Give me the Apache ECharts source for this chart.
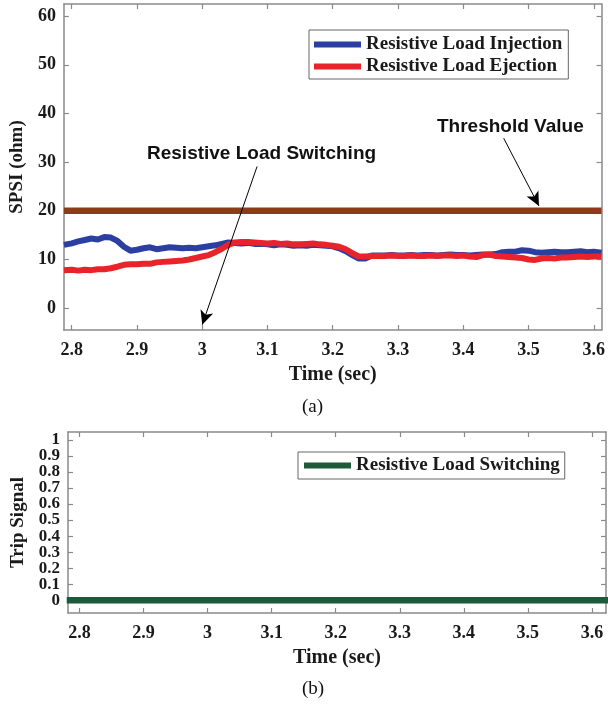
<!DOCTYPE html>
<html><head><meta charset="utf-8">
<script src="https://cdn.jsdelivr.net/npm/echarts@6/dist/echarts.min.js"></script>
<style>html,body{margin:0;padding:0;background:#fff}#c{width:608px;height:706px}</style>
</head><body><div id="c"></div>
<script>
// ---------------- data ----------------
const time = [2.788,
  2.80,2.81,2.82,2.83,2.84,2.85,2.86,2.87,2.88,2.89,
  2.90,2.91,2.92,2.93,2.94,2.95,2.96,2.97,2.98,2.99,
  3.00,3.01,3.02,3.03,3.04,3.05,3.06,3.07,3.08,3.09,
  3.10,3.11,3.12,3.13,3.14,3.15,3.16,3.17,3.18,3.19,
  3.20,3.21,3.22,3.23,3.24,3.25,3.26,3.27,3.28,3.29,
  3.30,3.31,3.32,3.33,3.34,3.35,3.36,3.37,3.38,3.39,
  3.40,3.41,3.42,3.43,3.44,3.45,3.46,3.47,3.48,3.49,
  3.50,3.51,3.52,3.53,3.54,3.55,3.56,3.57,3.58,3.59,
  3.60,3.612];
const injection = [13.0,
  13.3,13.7,14.0,14.3,14.1,14.6,14.5,13.8,12.6,11.8,
  12.0,12.3,12.5,12.1,12.3,12.5,12.4,12.3,12.4,12.3,
  12.5,12.7,12.9,13.2,13.5,13.4,13.3,13.4,13.2,13.2,
  13.1,12.9,13.1,13.0,12.8,12.9,12.8,13.0,12.9,12.8,
  12.7,12.3,11.7,10.9,10.2,10.2,10.8,10.8,10.8,10.9,
  10.8,10.8,10.9,10.8,10.9,10.9,10.8,10.9,11.0,10.9,
  10.9,10.8,10.9,11.0,11.0,11.1,11.5,11.6,11.6,11.9,
  11.8,11.5,11.4,11.5,11.6,11.5,11.5,11.6,11.7,11.5,
  11.6,11.4];
const ejection = [7.8,
  7.9,7.7,7.9,7.8,8.0,8.0,8.2,8.5,8.9,9.0,
  9.0,9.1,9.1,9.4,9.5,9.6,9.7,9.8,10.0,10.3,
  10.6,10.9,11.5,12.2,13.0,13.5,13.6,13.6,13.5,13.4,
  13.3,13.4,13.2,13.3,13.1,13.1,13.2,13.3,13.1,13.0,
  12.8,12.6,12.1,11.3,10.6,10.6,10.7,10.7,10.7,10.8,
  10.7,10.7,10.8,10.7,10.7,10.8,10.7,10.8,10.8,10.7,
  10.8,10.6,10.5,10.9,11.0,10.7,10.6,10.5,10.4,10.3,
  10.0,9.9,10.2,10.3,10.2,10.4,10.4,10.5,10.6,10.5,
  10.6,10.6];
const thresholdValue = 20;
const tripTime = [2.78,2.9,3.0,3.1,3.2,3.3,3.4,3.5,3.63];
const tripSignal = [0,0,0,0,0,0,0,0,0];
const timeTicks = [2.8,2.9,3,3.1,3.2,3.3,3.4,3.5,3.6];
const spsiTicks = [0,10,20,30,40,50,60];
const tripTicks = [0,0.1,0.2,0.3,0.4,0.5,0.6,0.7,0.8,0.9,1];
const seriesNames = ['Resistive Load Injection','Resistive Load Ejection','Resistive Load Switching'];
const annotationTexts = ['Resistive Load Switching','Threshold Value'];

// ---------------- layout / style ----------------
const SERIF = "'Liberation Serif','Times New Roman',serif";
const SANS = "'Liberation Sans',Arial,sans-serif";
const FRAME = '#8a8a8a';
const TXT = '#1a1a1a';
const topX = [2.788, 3.612], topY = [-4.5, 62.5];
const botX = [2.782, 3.622], botY = [-0.08, 1.05];
const switchArrow = [[3.084, 29.1], [3.0, -3.4]];
const thresholdArrow = [[3.462, 34.9], [3.516, 21.0]];
// labels of the dense trip axis split in two interleaved sets so none is dropped
const tripLabelsEven = tripTicks.filter((v, i) => i % 2 === 0);
const tripLabelsOdd = tripTicks.filter((v, i) => i % 2 === 1);

function pairs(xs, ys) { return xs.map((x, i) => [x, ys[i]]); }

function xAxis(grid, range, pos, ticks, labelled, nameGap) {
  return {
    type: 'value', gridIndex: grid, position: pos, min: range[0], max: range[1],
    name: labelled ? 'Time (sec)' : '', nameLocation: 'middle', nameGap: nameGap,
    nameTextStyle: { fontFamily: SERIF, fontWeight: 'bold', fontSize: 20, color: TXT },
    axisLine: { show: true, onZero: false, lineStyle: { color: FRAME, width: 1.5 } },
    axisTick: { show: true, inside: true, length: 5, customValues: ticks, lineStyle: { color: FRAME, width: 1.2 } },
    axisLabel: { show: labelled, customValues: ticks, showMinLabel: true, showMaxLabel: true,
      margin: 11, fontFamily: SERIF, fontWeight: 'bold', fontSize: 18, color: TXT },
    splitLine: { show: false }
  };
}
function yAxis(grid, range, pos, ticks, labels, name, nameGap, fs, showLine) {
  return {
    type: 'value', gridIndex: grid, position: pos, offset: 0, min: range[0], max: range[1],
    name: name, nameLocation: 'middle', nameGap: nameGap,
    nameTextStyle: { fontFamily: SERIF, fontWeight: 'bold', fontSize: 19, color: TXT },
    axisLine: { show: showLine, onZero: false, lineStyle: { color: FRAME, width: 1.5 } },
    axisTick: { show: showLine, inside: true, length: 5, customValues: ticks, lineStyle: { color: FRAME, width: 1.2 } },
    axisLabel: { show: !!labels, customValues: labels || ticks, showMinLabel: true, showMaxLabel: true,
      margin: 8, fontFamily: SERIF, fontWeight: 'bold', fontSize: fs, color: TXT },
    splitLine: { show: false }
  };
}

const chart = echarts.init(document.getElementById('c'), null, { renderer: 'canvas' });
chart.setOption({
  animation: false,
  backgroundColor: '#fff',
  grid: [
    { left: 63, top: 4, width: 542, height: 326 },
    { left: 68, top: 432, width: 538, height: 181 }
  ],
  xAxis: [
    xAxis(0, topX, 'bottom', timeTicks, true, 35),
    xAxis(0, topX, 'top', timeTicks, false, 0),
    xAxis(1, botX, 'bottom', timeTicks, true, 35),
    xAxis(1, botX, 'top', timeTicks, false, 0)
  ],
  yAxis: [
    yAxis(0, topY, 'left', spsiTicks, spsiTicks, 'SPSI (ohm)', 27, 18, true),
    yAxis(0, topY, 'right', spsiTicks, null, '', 0, 18, true),
    yAxis(1, botY, 'left', tripTicks, tripLabelsEven, 'Trip Signal', 35, 17, true),
    yAxis(1, botY, 'right', tripTicks, null, '', 0, 17, true),
    yAxis(1, botY, 'left', tripTicks, tripLabelsOdd, '', 0, 17, false)
  ],
  legend: [
    {
      data: [seriesNames[0], seriesNames[1]], orient: 'vertical', left: 309, top: 30,
      padding: [4, 6, 2, 5], itemGap: 1, itemWidth: 47, itemHeight: 6, icon: 'rect',
      borderColor: '#666', borderWidth: 1, backgroundColor: '#fff',
      textStyle: { fontFamily: SERIF, fontWeight: 'bold', fontSize: 19, lineHeight: 21, color: TXT }
    },
    {
      data: [seriesNames[2]], orient: 'vertical', left: 298, top: 452,
      padding: [3, 5, 3, 6], itemWidth: 47, itemHeight: 6, icon: 'rect',
      borderColor: '#666', borderWidth: 1, backgroundColor: '#fff',
      textStyle: { fontFamily: SERIF, fontWeight: 'bold', fontSize: 19, lineHeight: 21, color: TXT }
    }
  ],
  series: [
    {
      name: seriesNames[0], type: 'line', xAxisIndex: 0, yAxisIndex: 0, showSymbol: false,
      data: pairs(time, injection), color: '#2b3fa3', lineStyle: { width: 6, color: '#2b3fa3' }
    },
    {
      name: seriesNames[1], type: 'line', xAxisIndex: 0, yAxisIndex: 0, showSymbol: false,
      data: pairs(time, ejection), color: '#e8242a', lineStyle: { width: 6, color: '#e8242a' }
    },
    {
      name: 'Threshold', type: 'line', xAxisIndex: 0, yAxisIndex: 0, showSymbol: false,
      data: [[topX[0], thresholdValue], [topX[1], thresholdValue]],
      lineStyle: { width: 6.5, color: '#8e3a1d' }, color: '#8e3a1d',
      markLine: {
        silent: true, symbol: ['none', 'arrow'], symbolSize: [10, 14],
        label: { show: false },
        lineStyle: { color: '#000', width: 1, type: 'solid' },
        data: [
          [{ coord: switchArrow[0] }, { coord: switchArrow[1] }],
          [{ coord: thresholdArrow[0] }, { coord: thresholdArrow[1] }]
        ]
      }
    },
    {
      name: seriesNames[2], type: 'line', xAxisIndex: 2, yAxisIndex: 2, showSymbol: false,
      data: pairs(tripTime, tripSignal), color: '#1d5a3a', lineStyle: { width: 6.5, color: '#1d5a3a' }
    }
  ],
  graphic: [
    { type: 'text', left: 147, top: 144, style: { text: annotationTexts[0], font: 'bold 19px ' + SANS, fill: '#111' } },
    { type: 'text', left: 437, top: 117, style: { text: annotationTexts[1], font: 'bold 19px ' + SANS, fill: '#111' } },
    { type: 'text', left: 302, top: 398, style: { text: '(a)', font: '19px ' + SERIF, fill: '#111' } },
    { type: 'text', left: 302, top: 680, style: { text: '(b)', font: '19px ' + SERIF, fill: '#111' } }
  ]
});
</script></body></html>
